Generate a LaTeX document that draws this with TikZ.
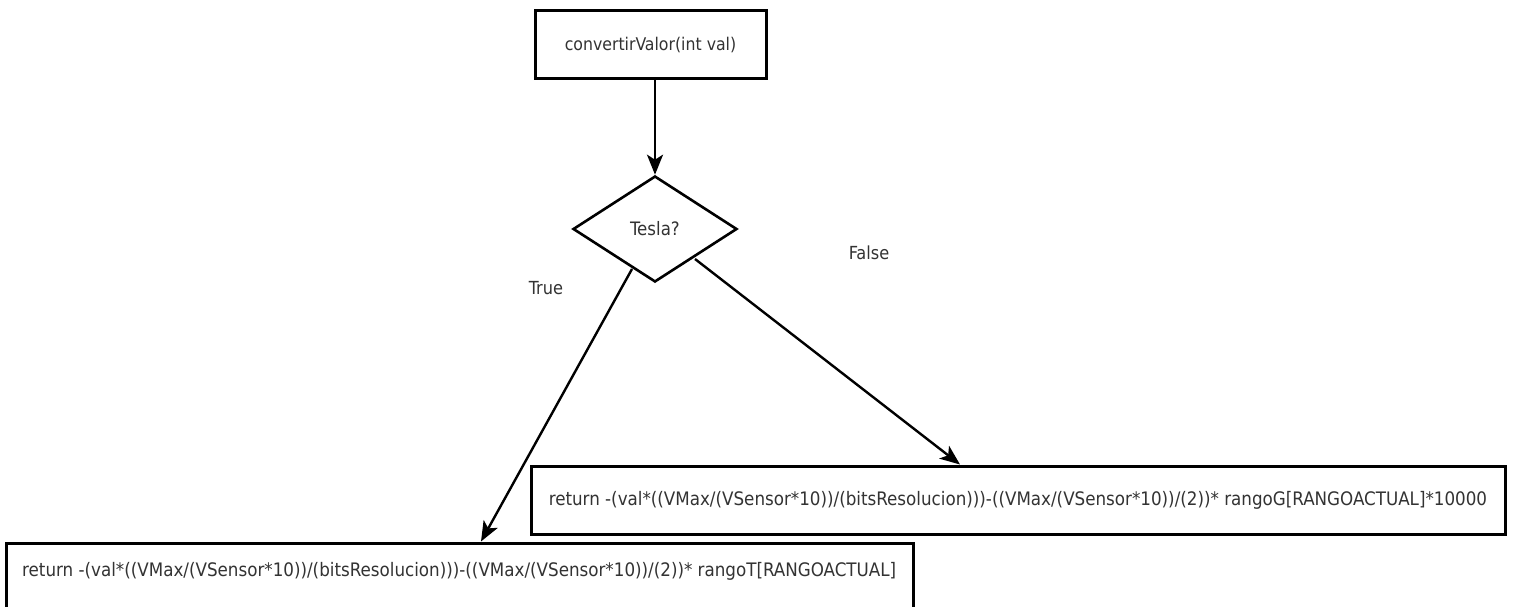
\documentclass[tikz,border=0pt]{standalone}
\usepackage{fontspec}
\setmainfont{DejaVu Sans Condensed}
\usetikzlibrary{arrows.meta,shapes.geometric}
\definecolor{txt}{HTML}{333333}
\tikzset{
  box/.style={draw=black, line width=3pt, rectangle, inner sep=0pt, text=txt, font=\fontsize{18.6}{22}\selectfont},
  decision/.style={draw=black, line width=2.6pt, diamond, aspect=1.55, inner sep=0pt, minimum width=164pt, minimum height=106pt, text=txt, font=\fontsize{18.5}{22}\selectfont},
  flow/.style={line width=2.4pt, -{Stealth[length=20pt,width=16pt,inset=5pt]}},
  lbl/.style={text=txt, font=\fontsize{18}{22}\selectfont, inner sep=0pt}
}
\begin{document}
\begin{tikzpicture}[x=1pt,y=-1pt]
  \useasboundingbox (0,0) rectangle (1514,607);
  \clip (0,0) rectangle (1514,607);
  \fill[white] (0,0) rectangle (1514,607);

  \node[box, minimum width=231pt, minimum height=68pt, font=\fontsize{17.5}{21}\selectfont] (start) at (650.5,45) {convertirValor(int val)};
  \node[decision] (tesla) at (655,229) {Tesla?};
  \node[box, minimum width=974pt, minimum height=68pt] (falsebox) at (1018,500)
    {return -(val*((VMax/(VSensor*10))/(bitsResolucion)))-((VMax/(VSensor*10))/(2))* rangoG[RANGOACTUAL]*10000};
  \node[box, minimum width=907pt, minimum height=68pt] (truebox) at (459.5,577)
    {};
  \node[lbl, font=\fontsize{18.6}{22}\selectfont, anchor=west] (truetext) at (22,571)
    {return -(val*((VMax/(VSensor*10))/(bitsResolucion)))-((VMax/(VSensor*10))/(2))* rangoT[RANGOACTUAL]};

  \coordinate (tstart) at (632,269);
  \coordinate (fstart) at (695,259);

  \draw[flow] (start.south -| tesla.north) -- (tesla.north);
  \draw[flow] (tstart) -- (truebox.north -| 481,0);
  \draw[flow] (fstart) -- (falsebox.north -| 960,0);

  \node[lbl] (ltrue) at (546,288) {True};
  \node[lbl] (lfalse) at (869,253) {False};
\end{tikzpicture}
\end{document}
